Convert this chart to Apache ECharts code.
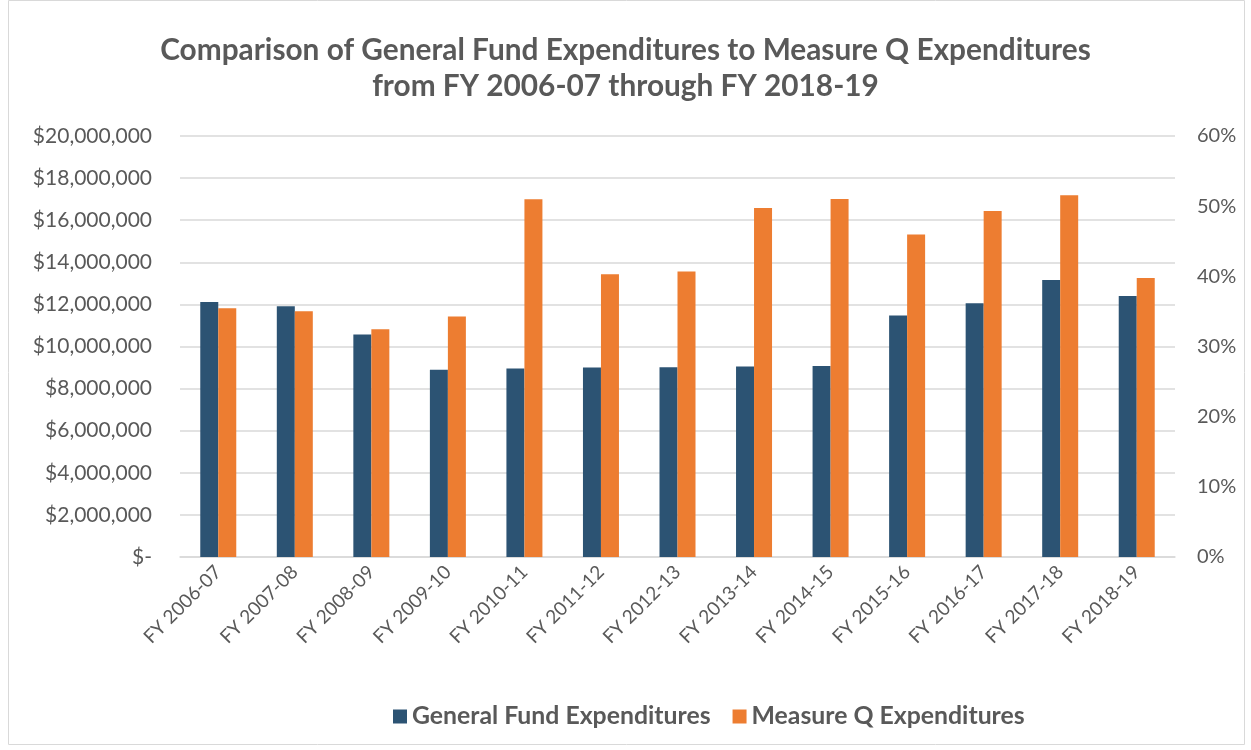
<!DOCTYPE html>
<html><head><meta charset="utf-8">
<script src="https://cdn.jsdelivr.net/npm/echarts@6/dist/echarts.min.js"></script>
<style>html,body{margin:0;padding:0;background:#fff}#c{width:1251px;height:750px}</style>
</head><body><div id="c"></div>
<script>
const categories = ['FY 2006-07','FY 2007-08','FY 2008-09','FY 2009-10','FY 2010-11','FY 2011-12','FY 2012-13','FY 2013-14','FY 2014-15','FY 2015-16','FY 2016-17','FY 2017-18','FY 2018-19'];
const generalFund = [12110000,11910000,10570000,8900000,8950000,9000000,9010000,9050000,9070000,11470000,12050000,13160000,12400000];
const measureQ = [11820000,11670000,10820000,11420000,16990000,13430000,13560000,16580000,17010000,15320000,16440000,17180000,13250000];
const titleLines = ['Comparison of General Fund Expenditures to Measure Q Expenditures','from FY 2006-07 through FY 2018-19'];

const FONT = 'Lato, "Open Sans", sans-serif';
const GREY = '#595959';
const chart = echarts.init(document.getElementById('c'));
chart.setOption({
  animation:false,
  title:{text:titleLines.join('\n'),left:'center',top:27,textStyle:{fontFamily:FONT,fontSize:29.8,fontWeight:700,color:GREY,lineHeight:36}},
  legend:{bottom:16,left:388,itemWidth:14,itemHeight:14,itemGap:22,icon:'rect',
    formatter:n=>'{b|'+n+'}',
    textStyle:{fontFamily:FONT,fontSize:24.8,fontWeight:'bold',color:GREY,
      rich:{b:{fontFamily:FONT,fontSize:24.8,fontWeight:'bold',color:GREY}}}},
  grid:{left:180,right:76,top:136,bottom:193,containLabel:false},
  graphic:[{type:'rect',shape:{x:8.5,y:0.5,width:1236,height:744},style:{fill:'none',stroke:'#d9d9d9',lineWidth:1},silent:true}],
  xAxis:{type:'category',data:categories,axisTick:{show:false},axisLine:{lineStyle:{color:'#d9d9d9',width:1.5}},
    axisLabel:{rotate:45,fontFamily:FONT,fontSize:19,color:GREY,margin:12,interval:0}},
  yAxis:[
    {type:'value',min:0,max:20000000,interval:2000000,axisLine:{show:false},axisTick:{show:false},
     splitLine:{lineStyle:{color:'#d9d9d9',width:1.5}},
     axisLabel:{fontFamily:FONT,fontSize:21,color:GREY,margin:28,formatter:v=>v===0?'$-':'$'+v.toLocaleString('en-US')}},
    {type:'value',min:0,max:0.6,interval:0.1,position:'right',axisLine:{show:false},axisTick:{show:false},splitLine:{show:false},
     axisLabel:{fontFamily:FONT,fontSize:20,color:GREY,margin:22,formatter:v=>Math.round(v*100)+'%'}}
  ],
  series:[
    {name:'General Fund Expenditures',type:'bar',data:generalFund,barWidth:18,barGap:'0%',itemStyle:{color:'#2C5373'}},
    {name:'Measure Q Expenditures',type:'bar',data:measureQ,barWidth:18,barGap:'0%',itemStyle:{color:'#ED7D31'}}
  ]
});
</script></body></html>
